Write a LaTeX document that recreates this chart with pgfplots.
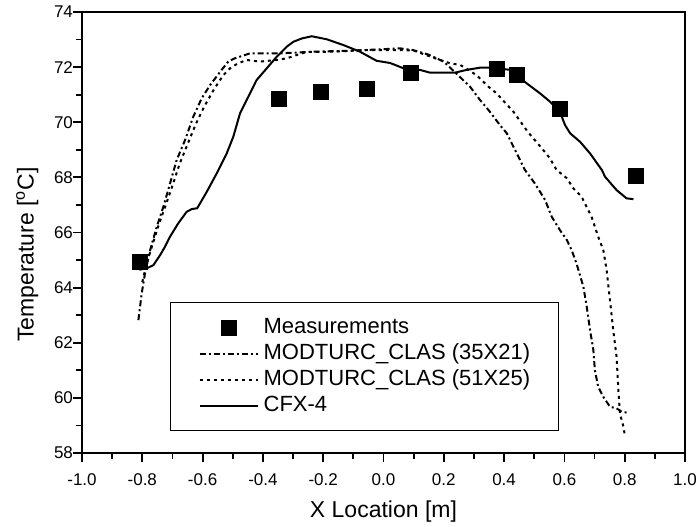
\documentclass[border=0pt]{standalone}
\usepackage{fontspec}
\setmainfont{Liberation Sans}
\usepackage{pgfplots}
\pgfplotsset{compat=1.18}
\usetikzlibrary{calc}
\pgfplotsset{
  marklegend/.style={legend image code/.code={%
    \draw[mark repeat=2, mark phase=2, ##1] plot coordinates {(0pt,0pt)(14.5pt,0pt)(29pt,0pt)};}},
}

\begin{document}
\begin{tikzpicture}
\begin{axis}[
  name=ax,
  scale only axis,
  width=301.5pt, height=220.5pt,
  xmin=-1, xmax=1, ymin=58, ymax=74,
  xtick={-1,-0.8,...,1.01}, ytick={58,60,...,74},
  minor x tick num=1, minor y tick num=1,
  tick pos=left, tick align=outside,
  major tick length=4.5pt, minor tick length=2.8pt,
  axis line style={line width=1pt}, every tick/.style={black, line width=0.9pt},
  xticklabel style={yshift=-2.5pt, /pgf/number format/.cd, fixed, fixed zerofill, precision=1},
  yticklabel style={xshift=3.5pt},
  /pgf/number format/assume math mode=true,
  tick label style={font=\fontsize{8.5}{10}\selectfont},
  label style={font=\fontsize{11.5}{13}\selectfont},
  xlabel={X Location [m]},
  ylabel={Temperature [\textsuperscript{o}C]},
  xlabel style={yshift=-0.5pt},
  ylabel style={yshift=1pt, xshift=-11pt},
  legend cell align=left,
  legend image code/.code={\draw[#1] (0pt,0pt) -- (29pt,0pt);},
  legend style={
    at={(0.146,0.342)}, anchor=north west,
    draw=black, line width=0.6pt,
    font=\fontsize{11}{13}\selectfont,
    nodes={inner sep=0pt, text height=9.5pt, text depth=3.5pt},
    /tikz/every odd column/.append style={column sep=2.5pt},
    inner xsep=14pt, inner ysep=6pt,
  },
]
\addplot[only marks, mark=square*, mark size=3.75pt, black, marklegend]
  coordinates {(-0.808,64.93)(-0.347,70.84)(-0.207,71.10)(-0.055,71.21)(0.091,71.79)
               (0.376,71.93)(0.443,71.71)(0.585,70.48)(0.837,68.05)};
\addlegendentry{Measurements}

\addplot[black, line width=1pt, dash pattern=on 3pt off 1.5pt on 1pt off 1.5pt]
  coordinates {(-0.813,62.82)(-0.802,63.79)(-0.791,64.52)(-0.774,65.36)(-0.752,66.21)
    (-0.730,66.94)(-0.708,67.78)(-0.686,68.63)(-0.658,69.36)(-0.631,70.20)(-0.603,70.87)
    (-0.575,71.35)(-0.542,71.83)(-0.515,72.20)(-0.493,72.32)(-0.443,72.50)(-0.343,72.50)
    (-0.233,72.56)(-0.10,72.60)(0.055,72.68)(0.098,72.62)(0.15,72.45)(0.20,72.20)
    (0.243,71.75)(0.287,71.29)(0.320,70.81)(0.353,70.38)(0.386,69.90)(0.409,69.60)
    (0.442,68.87)(0.469,68.27)(0.502,67.78)(0.536,67.18)(0.558,66.57)(0.585,66.09)
    (0.608,65.73)(0.624,65.36)(0.640,64.88)(0.663,64.03)(0.674,63.31)(0.685,62.46)
    (0.696,61.74)(0.701,61.01)(0.712,60.40)(0.729,60.04)(0.751,59.68)(0.773,59.62)
    (0.790,59.50)(0.815,59.45)};
\addlegendentry{MODTURC\_CLAS (35X21)}

\addplot[black, line width=1pt, dash pattern=on 1.5pt off 2pt]
  coordinates {(-0.800,64.2)(-0.785,64.9)(-0.765,65.6)(-0.745,66.3)(-0.722,67.0)
    (-0.700,67.7)(-0.676,68.5)(-0.650,69.2)(-0.622,69.95)(-0.593,70.6)(-0.562,71.2)
    (-0.532,71.7)(-0.505,72.0)(-0.481,72.14)(-0.454,72.26)(-0.41,72.2)(-0.354,72.26)
    (-0.321,72.32)(-0.288,72.44)(-0.255,72.55)(-0.166,72.56)(-0.056,72.62)(0.055,72.62)
    (0.10,72.60)(0.187,72.26)(0.221,72.14)(0.254,72.08)(0.290,71.85)(0.314,71.65)
    (0.348,71.29)(0.375,71.05)(0.431,70.38)(0.478,69.66)(0.530,68.99)(0.552,68.69)
    (0.574,68.27)(0.608,67.97)(0.630,67.60)(0.657,67.30)(0.690,66.57)(0.712,65.85)
    (0.729,65.36)(0.740,64.64)(0.751,63.55)(0.762,62.46)(0.773,61.49)(0.779,60.28)
    (0.784,59.44)(0.796,58.95)(0.801,58.59)};
\addlegendentry{MODTURC\_CLAS (51X25)}

\addplot[black, line width=1pt]
  coordinates {(-0.810,64.65)(-0.785,64.70)(-0.763,64.82)(-0.741,65.18)(-0.725,65.48)
    (-0.708,65.85)(-0.681,66.33)(-0.653,66.75)(-0.636,66.85)(-0.618,66.88)(-0.586,67.48)
    (-0.553,68.15)(-0.520,68.87)(-0.498,69.48)(-0.476,70.32)(-0.448,70.93)(-0.421,71.53)
    (-0.387,71.96)(-0.354,72.38)(-0.321,72.74)(-0.299,72.92)(-0.271,73.04)(-0.238,73.12)
    (-0.188,73.01)(-0.133,72.80)(-0.078,72.56)(-0.023,72.23)(0.022,72.15)(0.066,71.96)
    (0.121,71.90)(0.154,71.80)(0.237,71.80)(0.276,71.90)(0.320,71.98)(0.364,71.98)
    (0.420,71.90)(0.475,71.41)(0.519,71.05)(0.552,70.75)(0.585,70.38)(0.602,69.90)
    (0.619,69.60)(0.652,69.29)(0.685,68.87)(0.724,68.27)(0.735,68.02)(0.773,67.54)
    (0.806,67.24)(0.829,67.21)};
\addlegendentry{CFX-4}
\end{axis}
\pgfresetboundingbox
\path[use as bounding box] ($(ax.south west)+(-41pt,-36.5pt)$) rectangle ($(ax.north east)+(7pt,6pt)$);
\end{tikzpicture}
\end{document}
